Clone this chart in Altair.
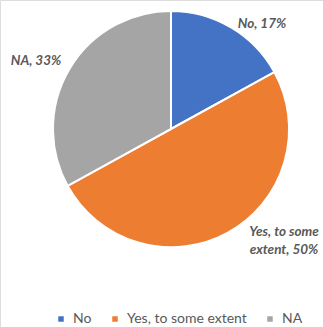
import altair as alt
import pandas as pd

categories = ["No", "Yes, to some extent", "NA"]
values = [17, 50, 33]
colors = ["#4472C4", "#ED7D31", "#A5A5A5"]

df = pd.DataFrame({"category": categories, "value": values, "order": [0, 1, 2]})

FONT = "Lato"
TXT = "#595959"

pie = alt.Chart(df).mark_arc(stroke="white", strokeWidth=2).encode(
    theta=alt.Theta("value:Q", stack=True),
    order=alt.Order("order:Q"),
    color=alt.Color(
        "category:N",
        scale=alt.Scale(domain=categories, range=colors),
        legend=alt.Legend(
            title=None,
            orient="none",
            direction="horizontal",
            legendX=54,
            legendY=312,
            symbolType="square",
            symbolSize=30,
            symbolStrokeWidth=0,
            labelFont=FONT,
            labelFontSize=14,
            labelColor=TXT,
            columnPadding=16,
            labelOffset=5,
            labelLimit=300,
        ),
    ),
    x=alt.value(171),
    y=alt.value(129),
    radius=alt.value(118),
)

def lab(lines, x, y, align="center"):
    return alt.Chart(pd.DataFrame({"t": [lines]})).mark_text(
        font=FONT, fontSize=13.5, fontWeight="bold", fontStyle="italic",
        color=TXT, align=align, baseline="middle", lineHeight=18,
    ).encode(text="t:N", x=alt.value(x), y=alt.value(y))

labels = [f"{c}, {v}%" for c, v in zip(categories, values)]

chart = alt.layer(
    pie,
    lab(labels[0], 262, 24),
    lab(["Yes, to some", "extent, 50%"], 284, 232),
    lab(labels[2], 36, 61),
).properties(
    width=323, height=327, autosize=alt.AutoSizeParams(type="none"), padding=0
).configure_view(stroke=None).configure(background="white")

chart.save("out.html", embed_options={"renderer": "svg", "actions": False})
